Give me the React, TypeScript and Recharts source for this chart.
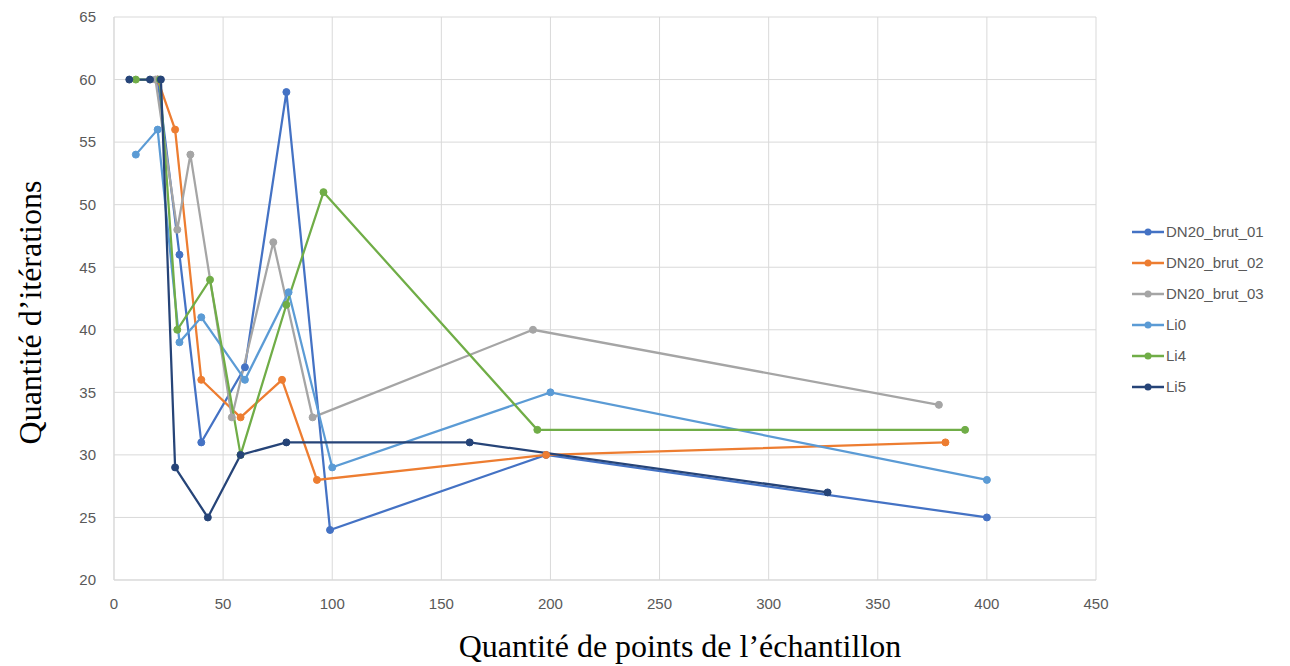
import { CartesianGrid, Line, LineChart, XAxis, YAxis } from "recharts";

const dn01X = [20, 30, 40, 60, 79, 99, 198, 400];
const dn01Y = [60, 46, 31, 37, 59, 24, 30, 25];

const dn02X = [20, 28, 40, 58, 77, 93, 198, 381];
const dn02Y = [60, 56, 36, 33, 36, 28, 30, 31];

const dn03X = [19, 29, 35, 54, 73, 91, 192, 378];
const dn03Y = [60, 48, 54, 33, 47, 33, 40, 34];

const li0X = [10, 20, 30, 40, 60, 80, 100, 200, 400];
const li0Y = [54, 56, 39, 41, 36, 43, 29, 35, 28];

const li4X = [10, 21, 29, 44, 58, 79, 96, 194, 390];
const li4Y = [60, 60, 40, 44, 30, 42, 51, 32, 32];

const li5X = [7, 16.5, 21.5, 28, 43, 58, 79, 163, 327];
const li5Y = [60, 60, 60, 29, 25, 30, 31, 31, 27];

const xTicks = [0, 50, 100, 150, 200, 250, 300, 350, 400, 450];
const yTicks = [20, 25, 30, 35, 40, 45, 50, 55, 60, 65];

const toPoints = (xs: number[], ys: number[]) => xs.map((x, i) => ({ x, y: ys[i] }));

const series = [
  { name: "DN20_brut_01", color: "#4472C4", data: toPoints(dn01X, dn01Y) },
  { name: "DN20_brut_02", color: "#ED7D31", data: toPoints(dn02X, dn02Y) },
  { name: "DN20_brut_03", color: "#A5A5A5", data: toPoints(dn03X, dn03Y) },
  { name: "Li0", color: "#5B9BD5", data: toPoints(li0X, li0Y) },
  { name: "Li4", color: "#70AD47", data: toPoints(li4X, li4Y) },
  { name: "Li5", color: "#264478", data: toPoints(li5X, li5Y) },
];

const tickStyle = { fontSize: 15, fill: "#595959", fontFamily: "Liberation Sans, Arial, sans-serif" };
const titleFont = "Liberation Serif, Times New Roman, serif";

function LegendBox() {
  return (
    <div
      style={{
        position: "absolute",
        left: 1132,
        top: 216,
        fontFamily: "Liberation Sans, Arial, sans-serif",
        fontSize: 15,
        color: "#595959",
      }}
    >
      {series.map((s) => (
        <div key={s.name} style={{ display: "flex", alignItems: "center", height: 31 }}>
          <svg width={32} height={10} style={{ marginRight: 2 }}>
            <line x1={0} y1={5} x2={32} y2={5} stroke={s.color} strokeWidth={2.5} />
            <circle cx={16} cy={5} r={3.5} fill={s.color} />
          </svg>
          <span>{s.name}</span>
        </div>
      ))}
    </div>
  );
}

function YTitle({ viewBox }: any) {
  const cx = 30;
  const cy = viewBox.y + viewBox.height / 2 + 14;
  return (
    <text
      x={cx}
      y={cy}
      transform={`rotate(-90, ${cx}, ${cy})`}
      textAnchor="middle"
      dominantBaseline="central"
      fontSize={32}
      fontFamily={titleFont}
      fill="#000"
    >
      Quantité d’itérations
    </text>
  );
}

function XTitle({ viewBox }: any) {
  return (
    <text
      x={viewBox.x + viewBox.width / 2 + 75}
      y={646}
      textAnchor="middle"
      dominantBaseline="central"
      fontSize={32}
      fontFamily={titleFont}
      fill="#000"
    >
      Quantité de points de l’échantillon
    </text>
  );
}

export default function App() {
  return (
    <div style={{ position: "absolute", left: 0, top: 0, width: 1290, height: 666, background: "#fff" }}>
      <LineChart width={1290} height={666} margin={{ top: 17, right: 194, left: 0, bottom: 56 }}>
        <CartesianGrid stroke="#D9D9D9" strokeWidth={1} />
        <XAxis
          type="number"
          dataKey="x"
          domain={[0, 450]}
          ticks={xTicks}
          tick={tickStyle}
          tickLine={false}
          axisLine={{ stroke: "#D9D9D9" }}
          tickMargin={12}
          allowDuplicatedCategory={false}
          label={(props: any) => <XTitle {...props} />}
        />
        <YAxis
          type="number"
          dataKey="y"
          domain={[20, 65]}
          ticks={yTicks}
          width={114}
          tick={tickStyle}
          tickLine={false}
          axisLine={{ stroke: "#D9D9D9" }}
          tickMargin={12}
          label={(props: any) => <YTitle {...props} />}
        />
        {series.map((s) => (
          <Line
            key={s.name}
            data={s.data}
            dataKey="y"
            name={s.name}
            type="linear"
            stroke={s.color}
            strokeWidth={2.25}
            dot={{ r: 3.5, fill: s.color, stroke: s.color, strokeWidth: 1 }}
            activeDot={false}
            isAnimationActive={false}
          />
        ))}
      </LineChart>
      <LegendBox />
    </div>
  );
}
